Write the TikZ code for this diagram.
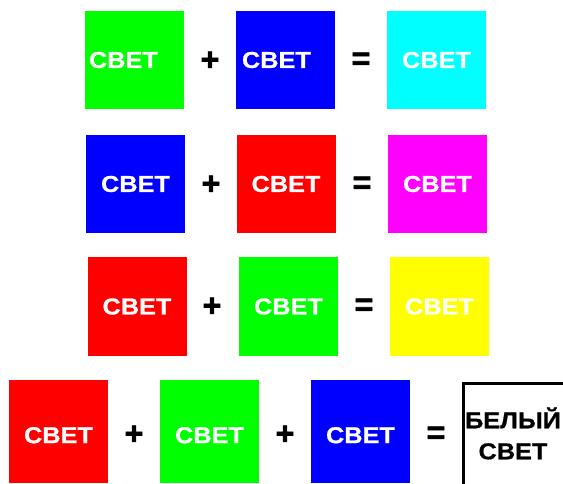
\documentclass[tikz,border=0pt]{standalone}
\usepackage{fontspec}
\setmainfont{Liberation Sans}
\newfontfamily\lightfont[FakeStretch=1.1, FakeBold=0.8]{Liberation Sans}
\newfontfamily\signfont[FakeBold=2]{Liberation Sans}
\usepackage{xcolor}
\usetikzlibrary{positioning}
\definecolor{cRed}{RGB}{255,0,0}
\definecolor{cGreen}{RGB}{0,255,0}
\definecolor{cBlue}{RGB}{0,0,255}
\definecolor{cCyan}{RGB}{0,255,255}
\definecolor{cMagenta}{RGB}{255,0,255}
\definecolor{cYellow}{RGB}{255,255,0}
\tikzset{
	light/.style    ={rectangle, minimum width=99pt, minimum height=98pt, inner sep=0pt, text=white, align=center, font=\lightfont\bfseries\fontsize{23}{28}\selectfont},
	lightl/.style   ={light, inner xsep=4pt, text width=91pt, align=left},
	lowrow/.style   ={minimum height=103pt, text height=23.5pt},
	sign/.style     ={inner sep=0pt, font=\signfont\bfseries\fontsize{32}{32}\selectfont},
	% white result box
	result/.style   ={rectangle, minimum width=99pt, minimum height=100pt, inner sep=0pt, align=center, font=\lightfont\bfseries\fontsize{23}{31}\selectfont},
	rim/.style      ={line width=3.5pt, line cap=rect},
}
\begin{document}
\begin{tikzpicture}[x=1pt, y=-1pt]
	\useasboundingbox (0,0) rectangle (563,484);
	% green + blue = cyan
	\node[lightl, fill=cGreen]   (g1) at (134.5,60) {СВЕТ};
	\node[sign]                  (p1) at (210,61)   {+};
	\node[lightl, fill=cBlue]    (b1) at (285.5,60) {\hspace*{2pt}СВЕТ};
	\node[sign]                  (e1) at (361,61)   {=};
	\node[light, fill=cCyan]     (c1) at (436.5,60) {СВЕТ};
	% blue + red = magenta
	\node[light, fill=cBlue]     (b2) at (135.5,184) {СВЕТ};
	\node[sign]                  (p2) at (211,185)   {+};
	\node[light, fill=cRed]      (r2) at (286,184)   {СВЕТ};
	\node[sign]                  (e2) at (362,185)   {=};
	\node[light, fill=cMagenta]  (m2) at (437.5,184) {СВЕТ};
	% red + green = yellow
	\node[light, fill=cRed]      (r3) at (137,306.5)   {СВЕТ};
	\node[sign]                  (p3) at (212,307)     {+};
	\node[light, fill=cGreen]    (g3) at (288.5,306.5) {СВЕТ};
	\node[sign]                  (e3) at (364,307)     {=};
	\node[light, fill=cYellow]   (y3) at (439.5,306.5) {СВЕТ};
	% red + green + blue = white
	\node[light, lowrow, fill=cRed]   (r4) at (58.5,431.5)  {СВЕТ};
	\node[sign]                       (p4) at (134,435)     {+};
	\node[light, lowrow, fill=cGreen] (g4) at (209.5,431.5) {СВЕТ};
	\node[sign]                       (q4) at (285,435)     {+};
	\node[light, lowrow, fill=cBlue]  (b4) at (360.5,431.5) {СВЕТ};
	\node[sign]                       (e4) at (436,435)     {=};
	\node[result] (w4) at (513,433.5) {БЕЛЫЙ\\СВЕТ};
	\draw[rim] (w4.south west) -- (w4.north west) -- (w4.north east);
\end{tikzpicture}
\end{document}
